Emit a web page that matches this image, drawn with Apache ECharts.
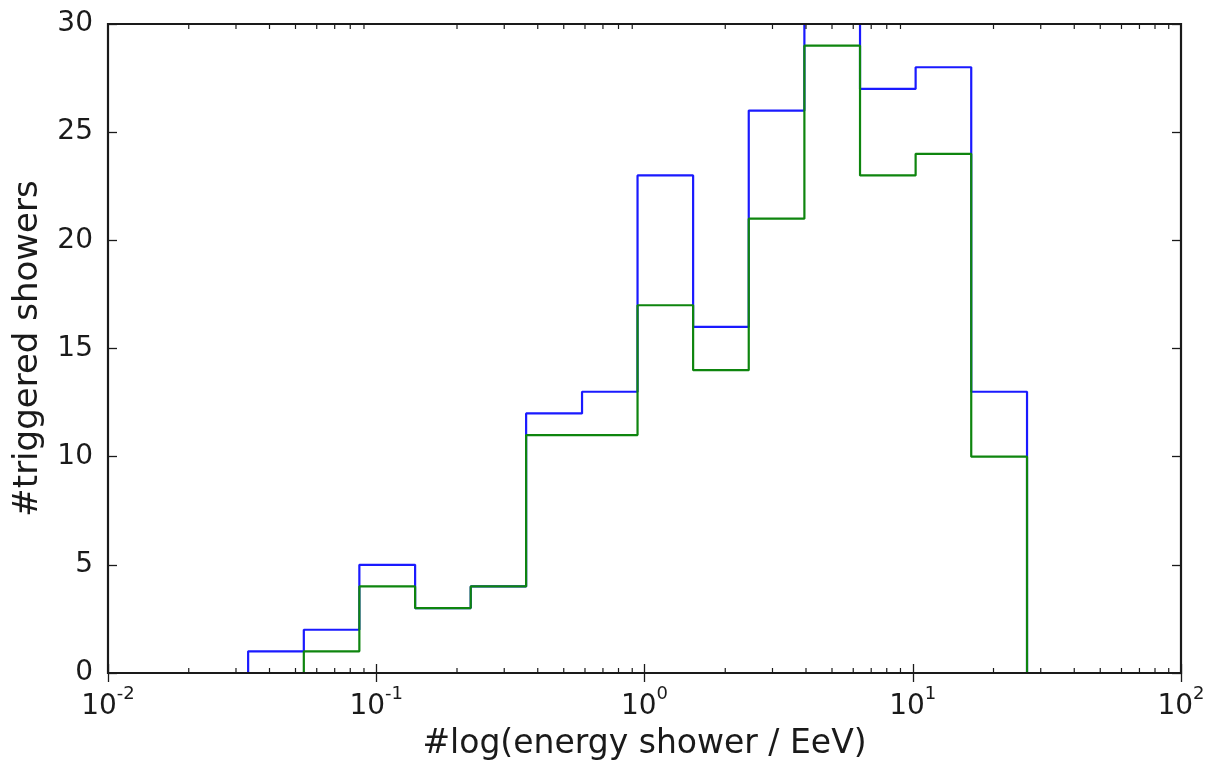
<!DOCTYPE html>
<html>
<head>
<meta charset="utf-8">
<style>
  html, body { margin: 0; padding: 0; background: #fff; }
  #chart { width: 1211px; height: 765px; }
</style>
<script src="https://cdn.jsdelivr.net/npm/echarts@6/dist/echarts.min.js"></script>
</head>
<body>
<div id="chart"></div>
<script>
// Histogram bin edges (EeV), log-spaced
var binEdges = [0.0333, 0.0537, 0.0865, 0.1396, 0.225, 0.362, 0.585, 0.942,
                1.518, 2.447, 3.945, 6.36, 10.25, 16.52, 26.67];
// Counts per bin
var blueCounts  = [1, 2, 5, 3, 4, 12, 13, 23, 16, 26, 30, 27, 28, 13];
var greenCounts = [0, 1, 4, 3, 4, 11, 11, 17, 14, 21, 29, 23, 24, 10];
// Axis ranges
var xRange = [0.01, 100];
var yRange = [0, 30];
var yStep = 5;

// Outline of a step histogram: up the first edge, across each bin, down the last edge
function stepPath(edges, counts) {
  var pts = [[edges[0], 0]];
  for (var i = 0; i < counts.length; i++) {
    pts.push([edges[i], counts[i]]);
    pts.push([edges[i + 1], counts[i]]);
  }
  pts.push([edges[edges.length - 1], 0]);
  return pts;
}

// Minor tick positions (2..9 within each decade)
var minorTicks = [];
for (var d = -2; d < 2; d++) {
  for (var m = 2; m <= 9; m++) minorTicks.push([m * Math.pow(10, d), 0]);
}

var FONT = 'DejaVu Sans';
var INK = '#1a1a1a';

var chart = echarts.init(document.getElementById('chart'), null, { renderer: 'canvas' });

var axisLineStyle = { color: INK, width: 1.8 };
var tickStyle = { color: INK, width: 1.3 };

chart.setOption({
  animation: false,
  backgroundColor: '#ffffff',
  grid: { left: 108, right: 30, top: 24, bottom: 92, containLabel: false, outerBoundsMode: 'none' },
  xAxis: [{
    type: 'log', logBase: 10, min: xRange[0], max: xRange[1],
    position: 'bottom',
    name: '#log(energy shower / EeV)',
    nameLocation: 'middle', nameGap: 55,
    nameTextStyle: { fontFamily: FONT, fontSize: 33, color: INK },
    axisLine: { show: true, lineStyle: axisLineStyle },
    axisTick: { show: true, inside: true, length: 9, lineStyle: tickStyle },
    minorTick: { show: false },
    splitLine: { show: false },
    axisLabel: {
      margin: 12, color: INK,
      formatter: function (v) {
        var e = Math.round(Math.log10(v));
        return '{b|10}{s|' + e + '}';
      },
      rich: {
        b: { fontFamily: FONT, fontSize: 28, color: INK, lineHeight: 36, verticalAlign: 'bottom' },
        s: { fontFamily: FONT, fontSize: 18, color: INK, lineHeight: 36, verticalAlign: 'top' }
      }
    }
  }, {
    type: 'log', logBase: 10, min: xRange[0], max: xRange[1],
    position: 'top',
    axisLine: { show: true, lineStyle: axisLineStyle },
    axisTick: { show: true, inside: true, length: 9, lineStyle: tickStyle },
    axisLabel: { show: false },
    splitLine: { show: false }
  }],
  yAxis: [{
    type: 'value', min: yRange[0], max: yRange[1], interval: yStep,
    position: 'left',
    name: '#triggered showers',
    nameLocation: 'middle', nameGap: 63,
    nameTextStyle: { fontFamily: FONT, fontSize: 34, color: INK },
    axisLine: { show: true, lineStyle: axisLineStyle },
    axisTick: { show: true, inside: true, length: 9, lineStyle: tickStyle },
    splitLine: { show: false },
    axisLabel: { margin: 15, fontFamily: FONT, fontSize: 28, color: INK }
  }, {
    type: 'value', min: yRange[0], max: yRange[1], interval: yStep,
    position: 'right',
    axisLine: { show: true, lineStyle: axisLineStyle },
    axisTick: { show: true, inside: true, length: 9, lineStyle: tickStyle },
    splitLine: { show: false },
    axisLabel: { show: false }
  }],
  series: [{
    type: 'line', name: 'all',
    data: stepPath(binEdges, blueCounts),
    showSymbol: false, symbol: 'none',
    lineStyle: { color: '#1a1aff', width: 2.2 },
    z: 2, clip: true
  }, {
    type: 'line', name: 'selected',
    data: stepPath(binEdges, greenCounts),
    showSymbol: false, symbol: 'none',
    lineStyle: { color: '#0e850e', width: 2.2 },
    z: 3, clip: true
  }, {
    // minor ticks on the bottom and top log axes
    type: 'custom', silent: true, z: 20,
    data: minorTicks,
    encode: { x: 0, y: 1 },
    clip: false,
    renderItem: function (params, api) {
      var v = api.value(0);
      var b = api.coord([v, yRange[0]]);
      var t = api.coord([v, yRange[1]]);
      var st = { stroke: INK, lineWidth: 1.2 };
      return {
        type: 'group',
        children: [
          { type: 'line', shape: { x1: b[0], y1: b[1], x2: b[0], y2: b[1] - 5 }, style: st },
          { type: 'line', shape: { x1: t[0], y1: t[1], x2: t[0], y2: t[1] + 5 }, style: st }
        ]
      };
    }
  }, {
    // plot frame, redrawn above the histogram outlines
    type: 'custom', silent: true, z: 21,
    data: [[xRange[0], yRange[0]]],
    encode: { x: 0, y: 1 },
    clip: false,
    renderItem: function (params, api) {
      var bl = api.coord([xRange[0], yRange[0]]);
      var tr = api.coord([xRange[1], yRange[1]]);
      return {
        type: 'rect',
        shape: { x: bl[0], y: tr[1], width: tr[0] - bl[0], height: bl[1] - tr[1] },
        style: { fill: 'none', stroke: INK, lineWidth: 2.2 }
      };
    }
  }]
});
</script>
</body>
</html>
